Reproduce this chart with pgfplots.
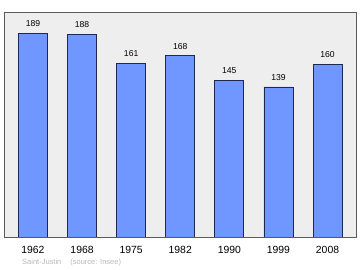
\documentclass[border=0pt]{standalone}
\usepackage{pgfplots}
\pgfplotsset{compat=1.18}
\usepackage{fontspec}
\setmainfont{Liberation Sans}
\definecolor{barfill}{RGB}{112,150,255}
\definecolor{bardraw}{RGB}{30,40,80}
\definecolor{bg}{RGB}{238,238,238}
\definecolor{frame}{RGB}{90,90,90}
\definecolor{foot}{RGB}{185,185,185}
\begin{document}
\begin{tikzpicture}[x=1pt,y=1pt]
\path[use as bounding box] (0,0) rectangle (360,270);
\begin{axis}[
  at={(4pt,33pt)}, anchor=south west,
  scale only axis, width=352pt, height=224.5pt,
  xmin=-0.59, xmax=6.58, ymin=0, ymax=208,
  axis background/.style={fill=bg},
  axis line style={draw=frame, line width=0.9pt},
  ybar, bar width=29pt,
  xtick=data,
  xticklabels={1962,1968,1975,1982,1990,1999,2008},
  ytick=\empty,
  major tick length=0pt,
  xticklabel style={font=\fontsize{10.4}{12}\selectfont, anchor=base, yshift=-17pt},
  nodes near coords,
  every node near coord/.append style={font=\fontsize{8.6}{10}\selectfont, anchor=base, yshift=6.5pt},
  /pgf/number format/assume math mode=true,
]
\addplot[fill=barfill, draw=bardraw, line width=0.7pt] coordinates {
(0,189) (1,188) (2,161) (3,168) (4,145) (5,139) (6,160)};
\end{axis}
\node[anchor=base west, text=foot, font=\fontsize{7.5}{9}\selectfont, inner sep=0pt] at (22,5.5) {Saint-Justin\hspace{9pt}(source: Insee)};
\end{tikzpicture}
\end{document}
